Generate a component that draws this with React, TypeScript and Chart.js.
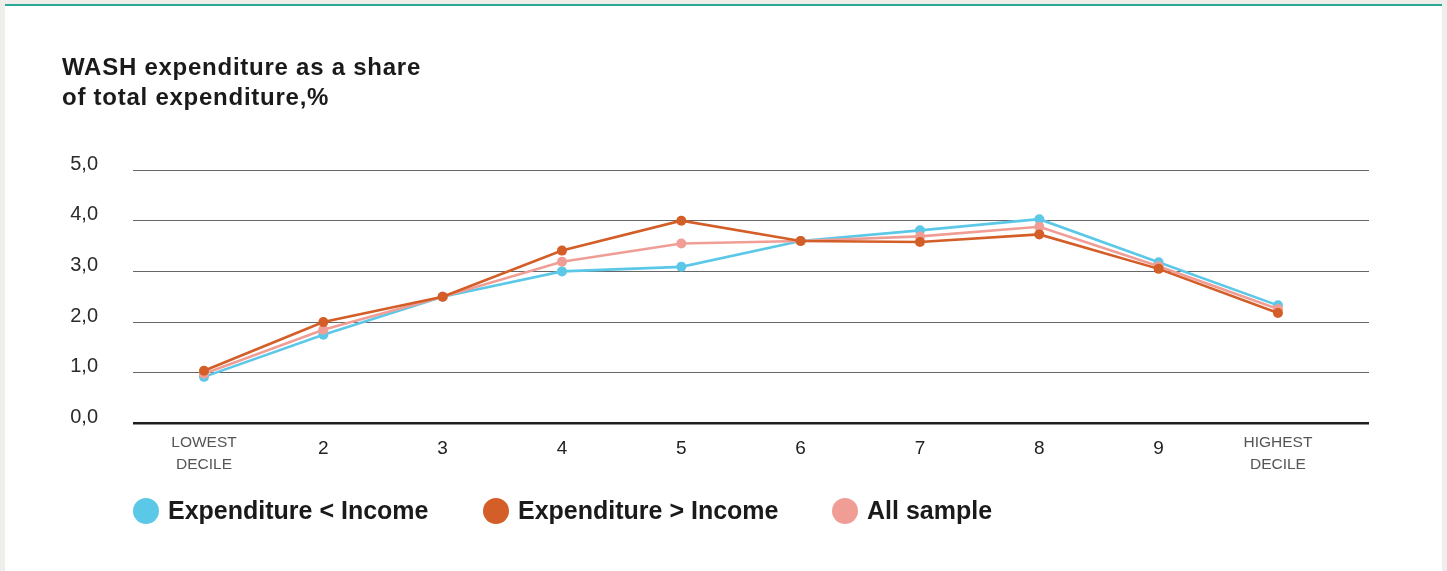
import React, { useEffect, useRef } from "react";
import { Chart, registerables } from "chart.js";

Chart.register(...registerables);

// Income deciles on the horizontal axis
const deciles: (string | string[])[] = [
  ["LOWEST", "DECILE"],
  "2",
  "3",
  "4",
  "5",
  "6",
  "7",
  "8",
  "9",
  ["HIGHEST", "DECILE"],
];

// WASH expenditure share of total expenditure, %
const expLessIncome = [0.92, 1.75, 2.5, 3.0, 3.09, 3.6, 3.81, 4.03, 3.18, 2.33];
const expMoreIncome = [1.04, 2.0, 2.5, 3.41, 4.0, 3.6, 3.58, 3.73, 3.05, 2.18];
const allSample = [0.98, 1.85, 2.5, 3.19, 3.55, 3.6, 3.69, 3.88, 3.1, 2.26];

const yTicks = [0, 1, 2, 3, 4, 5];

const BLUE = "#5cc8e8";
const ORANGE = "#d35e27";
const PINK = "#f09e95";

const FONT = "'Liberation Sans', Arial, Helvetica, sans-serif";

const legendItems = [
  { label: "Expenditure < Income", color: BLUE },
  { label: "Expenditure > Income", color: ORANGE },
  { label: "All sample", color: PINK },
];

const toPoints = (vals: number[]) => vals.map((y, i) => ({ x: i, y }));

const isWordLabel = (v: number) => v === 0 || v === deciles.length - 1;

export default function App() {
  const canvasRef = useRef<HTMLCanvasElement | null>(null);

  useEffect(() => {
    if (!canvasRef.current) return;
    const line = (label: string, data: number[], color: string, order: number) => ({
      label,
      data: toPoints(data),
      borderColor: color,
      backgroundColor: color,
      pointBackgroundColor: color,
      pointBorderWidth: 0,
      pointRadius: 5,
      borderWidth: 2.6,
      tension: 0,
      order,
    });

    const chart = new Chart(canvasRef.current, {
      type: "line",
      data: {
        datasets: [
          line("Expenditure < Income", expLessIncome, BLUE, 2),
          line("Expenditure > Income", expMoreIncome, ORANGE, 0),
          line("All sample", allSample, PINK, 1),
        ],
      },
      options: {
        animation: false,
        responsive: false,
        devicePixelRatio: 1,
        layout: { padding: { left: 0, right: 78, top: 170, bottom: 87.5 } },
        plugins: {
          legend: { display: false },
          tooltip: { enabled: false },
          title: { display: false },
        },
        scales: {
          x: {
            type: "linear",
            min: -0.595,
            max: 9.763,
            afterBuildTicks: (scale: any) => {
              scale.ticks = deciles.map((_, i) => ({ value: i }));
            },
            afterFit: (scale: any) => {
              scale.height = 60;
            },
            grid: { display: false },
            border: { display: false },
            ticks: {
              autoSkip: false,
              maxRotation: 0,
              padding: 0,
              callback: (v: any) => deciles[Math.round(Number(v))] as any,
              font: (ctx: any) => {
                const v = ctx.tick ? ctx.tick.value : 1;
                return isWordLabel(v)
                  ? { family: FONT, size: 15.5, lineHeight: "22px" }
                  : { family: FONT, size: 19, lineHeight: "35px" };
              },
              color: (ctx: any) => {
                const v = ctx.tick ? ctx.tick.value : 1;
                return isWordLabel(v) ? "#555555" : "#222222";
              },
            },
          },
          y: {
            min: 0,
            max: 5,
            afterBuildTicks: (scale: any) => {
              scale.ticks = yTicks.map((v) => ({ value: v }));
            },
            afterFit: (scale: any) => {
              scale.width = 133;
            },
            border: { display: false },
            grid: {
              drawTicks: false,
              color: (ctx: any) => (ctx.tick && ctx.tick.value === 0 ? "#1e1e1e" : "#666666"),
              lineWidth: (ctx: any) => (ctx.tick && ctx.tick.value === 0 ? 2.5 : 1),
            },
            ticks: {
              padding: 35,
              labelOffset: -6,
              color: "#2a2a2a",
              font: { family: FONT, size: 20 },
              callback: (v: any) => Number(v).toFixed(1).replace(".", ","),
            },
          },
        },
      },
    } as any);

    return () => chart.destroy();
  }, []);

  return (
    <div
      style={{
        position: "fixed",
        left: 0,
        top: 0,
        width: 1447,
        height: 571,
        background: "#efeeea",
        overflow: "hidden",
      }}
    >
      <div
        style={{
          position: "absolute",
          left: 5,
          top: 4,
          width: 1437,
          height: 567,
          background: "#ffffff",
          borderTop: "2px solid #2aa898",
        }}
      />
      <canvas
        ref={canvasRef}
        width={1447}
        height={571}
        style={{ position: "absolute", left: 0, top: 0, width: 1447, height: 571 }}
      />
      <div
        style={{
          position: "absolute",
          left: 62,
          top: 52,
          fontFamily: FONT,
          fontWeight: 700,
          fontSize: 24,
          letterSpacing: 0.75,
          lineHeight: "30px",
          color: "#1a1a1a",
        }}
      >
        WASH expenditure as a share
        <br />
        of total expenditure,%
      </div>
      <div style={{ position: "absolute", left: 0, top: 497, height: 27 }}>
        {legendItems.map((it, i) => (
          <div
            key={it.label}
            style={{
              position: "absolute",
              left: [133, 483, 832][i],
              top: 0,
              height: 27,
              display: "flex",
              alignItems: "center",
              whiteSpace: "nowrap",
            }}
          >
            <span
              style={{
                display: "inline-block",
                width: 26,
                height: 26,
                borderRadius: "50%",
                background: it.color,
                marginRight: 9,
              }}
            />
            <span
              style={{
                fontFamily: FONT,
                fontWeight: 700,
                fontSize: 25,
                lineHeight: "27px",
                color: "#1a1a1a",
              }}
            >
              {it.label}
            </span>
          </div>
        ))}
      </div>
    </div>
  );
}
